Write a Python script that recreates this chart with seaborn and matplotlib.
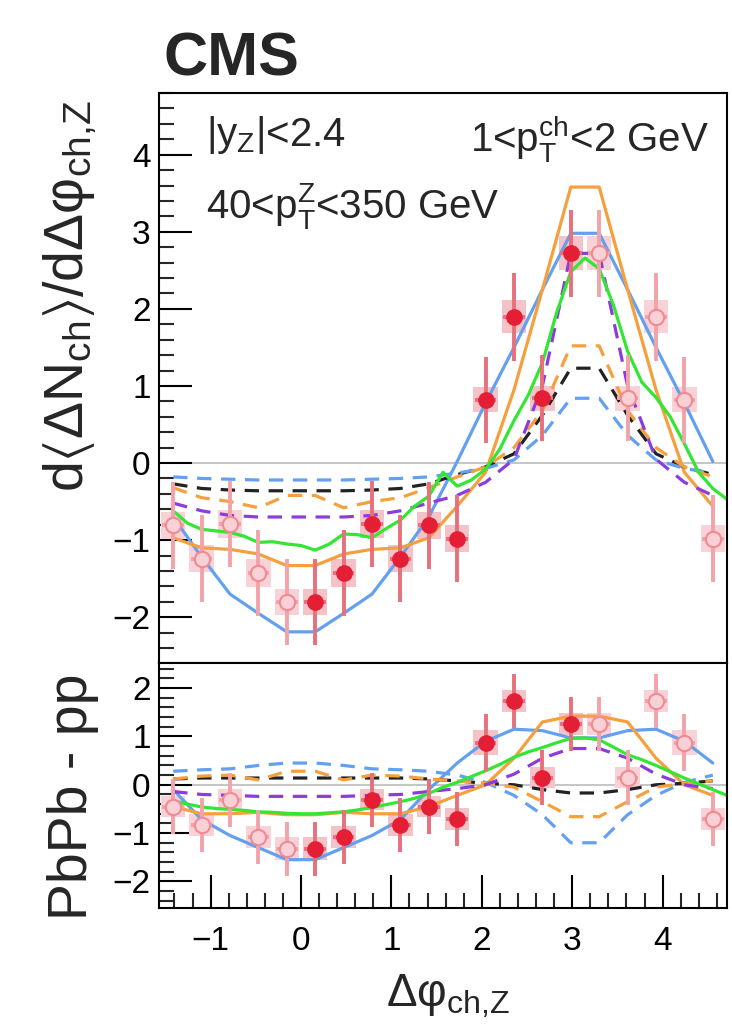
import numpy as np
import seaborn as sns
import matplotlib.pyplot as plt
from matplotlib.ticker import MultipleLocator

n_bins = 10
data_top = [-1.80, -1.43, -0.79, -1.24, -0.81, -0.98, 0.82, 1.90, 0.84, 2.72]
stat_top = [0.56, 0.56, 0.56, 0.56, 0.56, 0.56, 0.56, 0.57, 0.56, 0.56]
sys_top = [0.17, 0.18, 0.18, 0.18, 0.17, 0.17, 0.16, 0.21, 0.16, 0.22]

data_bot = [-1.32, -1.08, -0.31, -0.83, -0.45, -0.71, 0.87, 1.74, 0.15, 1.25]
stat_bot = [0.56, 0.56, 0.56, 0.56, 0.56, 0.56, 0.59, 0.56, 0.56, 0.56]
sys_bot = [0.24, 0.22, 0.22, 0.22, 0.22, 0.22, 0.26, 0.23, 0.22, 0.23]

# model curves at the bin centres (0..pi)
blue_top = [-2.19, -1.95, -1.70, -1.22, -0.70, 0.02, 0.78, 1.50, 2.25, 2.98]
orange_top = [-1.33, -1.18, -1.12, -1.10, -0.97, -0.56, -0.12, 0.95, 2.25, 3.58]
black_dash_top = [-0.36, -0.36, -0.35, -0.33, -0.27, -0.15, -0.05, 0.12, 0.62, 1.23]
blue_dash_top = [-0.22, -0.22, -0.21, -0.20, -0.18, -0.13, -0.07, 0.04, 0.36, 0.84]
orange_dash_top = [-0.42, -0.58, -0.50, -0.45, -0.32, -0.18, -0.05, 0.20, 0.68, 1.52]
purple_dash_top = [-0.70, -0.70, -0.68, -0.62, -0.52, -0.42, -0.25, 0.05, 1.00, 2.72]

blue_bot = [-1.55, -1.30, -1.05, -0.72, -0.10, 0.45, 0.90, 1.15, 1.12, 0.97]
orange_bot = [-0.62, -0.57, -0.60, -0.60, -0.45, -0.22, 0.00, 0.55, 1.30, 1.42]
black_dash_bot = [0.14, 0.14, 0.14, 0.14, 0.12, 0.08, 0.03, 0.00, -0.10, -0.17]
blue_dash_bot = [0.45, 0.40, 0.33, 0.31, 0.28, 0.20, 0.05, -0.22, -0.62, -1.20]
orange_dash_bot = [0.28, 0.10, 0.20, 0.18, 0.12, 0.08, 0.03, -0.05, -0.35, -0.66]
purple_dash_bot = [-0.24, -0.24, -0.22, -0.20, -0.14, -0.08, 0.00, 0.22, 0.55, 0.75]

# green curve has finer binning (pi/20), from -1.41 to 4.71
green_top = [-0.62, -0.78, -0.86, -0.88, -0.90, -0.95, -1.03, -1.02, -1.05, -1.07,
             -1.13, -1.05, -0.92, -0.93, -0.97, -0.85, -0.74, -0.56, -0.43, -0.12,
             -0.30, -0.22, -0.08, 0.18, 0.55, 0.88, 1.30, 1.95, 2.48, 2.66,
             2.52, 2.05, 1.45, 1.05, 0.85, 0.60, 0.25, -0.12, -0.33, -0.47]
green_bot = [-0.33, -0.40, -0.46, -0.49, -0.51, -0.53, -0.56, -0.57, -0.59, -0.60,
             -0.60, -0.58, -0.56, -0.52, -0.47, -0.41, -0.35, -0.28, -0.18, -0.05,
             0.05, 0.17, 0.29, 0.42, 0.57, 0.68, 0.77, 0.87, 0.96, 0.97,
             0.93, 0.78, 0.62, 0.52, 0.40, 0.27, 0.14, 0.02, -0.10, -0.22]

BLUE = '#64a0f0'
ORANGE = '#f5a03c'
GREEN = '#33e633'
PURPLE = '#8c3cdc'
BLACK = '#222222'

centers = (np.arange(n_bins) + 0.5) * np.pi / n_bins
x_left = -centers[:5][::-1]
x_right = 2 * np.pi - centers[5:][::-1]
x_curve = np.concatenate([x_left, centers, x_right])
x_green = -np.pi / 2 + np.pi / 20 * np.arange(1, 41)


def mirror(v):
    v = np.asarray(v)
    return np.concatenate([v[:5][::-1], v, v[5:][::-1]])


sns.set_theme(style='ticks')
plt.rcParams['font.family'] = ['Liberation Sans', 'DejaVu Sans']
plt.rcParams['mathtext.fontset'] = 'custom'
plt.rcParams['mathtext.rm'] = 'Liberation Sans'
plt.rcParams['mathtext.it'] = 'Liberation Sans'
plt.rcParams['mathtext.bf'] = 'Liberation Sans:bold'
plt.rcParams['mathtext.default'] = 'regular'

fig = plt.figure(figsize=(7.32, 10.26), dpi=100)
ax1 = fig.add_axes([159 / 732, 1 - 663 / 1026, 568 / 732, 570 / 1026])
ax2 = fig.add_axes([159 / 732, 1 - 908 / 1026, 568 / 732, 245 / 1026])


def draw_panel(ax, data, stat, sys_err, curves, green):
    ax.axhline(0, color='#c0c0c0', lw=1.3, zorder=0)
    data = np.asarray(data)
    stat = np.asarray(stat)
    sys_err = np.asarray(sys_err)
    # mirrored (open) points
    xo = np.concatenate([x_left, x_right])
    yo = np.concatenate([data[:5][::-1], data[5:][::-1]])
    so = np.concatenate([stat[:5][::-1], stat[5:][::-1]])
    syo = np.concatenate([sys_err[:5][::-1], sys_err[5:][::-1]])
    ax.bar(xo, 2 * syo, bottom=yo - syo, width=0.27, color='#f8d2d6', lw=0, zorder=1)
    ax.bar(centers, 2 * sys_err, bottom=data - sys_err, width=0.27, color='#f5c2c8', lw=0, zorder=1)

    for vals, col, ls in curves:
        sns.lineplot(x=x_curve, y=mirror(vals), ax=ax, color=col, lw=2.3,
                     linestyle=ls, estimator=None, zorder=2)
    sns.lineplot(x=x_green, y=green, ax=ax, color=GREEN, lw=2.3,
                 estimator=None, zorder=2)

    ax.errorbar(xo, yo, yerr=so, xerr=0.12, fmt='o', ms=11, mfc='#f8d0d5',
                mec='#f08a93', mew=1.5, ecolor='#f3a2aa', elinewidth=2.8,
                capsize=0, zorder=3)
    ax.errorbar(centers, data, yerr=stat, xerr=0.12, fmt='o', ms=11,
                mfc='#e31e35', mec='#e31e35', ecolor='#e8707c', elinewidth=2.8,
                capsize=0, zorder=4)

    ax.set_xlim(-np.pi / 2, 3 * np.pi / 2)
    ax.set_xlabel('')
    ax.set_ylabel('')
    for s in ax.spines.values():
        s.set_linewidth(1.5)
        s.set_color('black')
    ax.tick_params(which='major', direction='in', length=24, width=1.5,
                   labelsize=24, colors='black', right=False, top=False)
    ax.tick_params(which='minor', direction='in', length=11, width=1.5,
                   right=False, top=False)
    ax.tick_params(axis='y', pad=6)
    ax.tick_params(axis='x', pad=13)
    ax.yaxis.set_major_locator(MultipleLocator(1))
    ax.yaxis.set_minor_locator(MultipleLocator(0.2))
    ax.xaxis.set_major_locator(MultipleLocator(1))
    ax.xaxis.set_minor_locator(MultipleLocator(0.2))


dash = (0, (4.5, 3))
draw_panel(ax1, data_top, stat_top, sys_top,
           [(blue_top, BLUE, '-'), (orange_top, ORANGE, '-'),
            (black_dash_top, BLACK, dash), (blue_dash_top, BLUE, dash),
            (orange_dash_top, ORANGE, dash), (purple_dash_top, PURPLE, dash)],
           green_top)
draw_panel(ax2, data_bot, stat_bot, sys_bot,
           [(blue_bot, BLUE, '-'), (orange_bot, ORANGE, '-'),
            (black_dash_bot, BLACK, dash), (blue_dash_bot, BLUE, dash),
            (orange_dash_bot, ORANGE, dash), (purple_dash_bot, PURPLE, dash)],
           green_bot)

ax1.set_ylim(-2.594, 4.80)
ax1.tick_params(axis='x', which='both', bottom=False, labelbottom=False)
ax2.set_ylim(-2.55, 2.52)

# labels
fig.text(163 / 732, 1 - 75 / 1026, 'CMS', fontsize=44, fontweight='bold', va='baseline')
fig.text(206 / 732, 1 - 146 / 1026, r'|y$_{Z}$|<2.4', fontsize=29, va='baseline')
fig.text(206 / 732, 1 - 218 / 1026, r'40<p$_{T}^{Z}$<350 GeV', fontsize=29, va='baseline')
fig.text(470 / 732, 1 - 152 / 1026, r'1<p$_{T}^{ch}$<2 GeV', fontsize=29, va='baseline')

fig.text(83 / 732, 1 - 100 / 1026, r'd$\langle$ΔN$_{ch}\rangle$/dΔφ$_{ch{,}Z}$', fontsize=40,
         rotation=90, rotation_mode='anchor', ha='right', va='baseline')
fig.text(87 / 732, 1 - 673 / 1026, 'PbPb - pp', fontsize=40,
         rotation=90, rotation_mode='anchor', ha='right', va='baseline')
fig.text(448 / 732, 1 - 1006 / 1026, r'Δφ$_{ch{,}Z}$', fontsize=33,
         ha='center', va='baseline')

fig.savefig('out.png', dpi=100)
